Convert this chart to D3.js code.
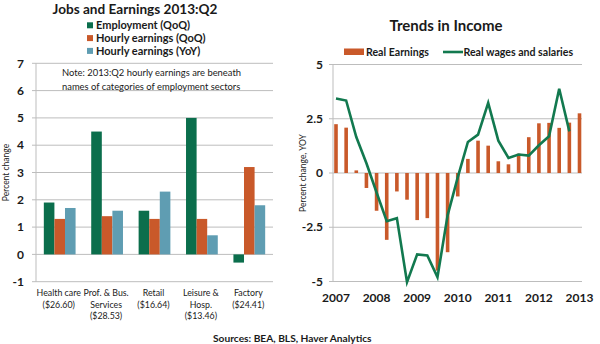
<!DOCTYPE html>
<html>
<head>
<meta charset="utf-8">
<script src="https://cdn.jsdelivr.net/npm/d3@7"></script>
<style>
  body { margin: 0; background: #fff; }
  svg { display: block; font-family: Lato, "Open Sans", sans-serif; }
</style>
</head>
<body>
<svg id="chart" width="600" height="344"></svg>
<script>
// left panel: jobs and hourly earnings by sector
const sectorLines = [
    ['Health care', '($26.60)'],
    ['Prof. & Bus.', 'Services', '($28.53)'],
    ['Retail', '($16.64)'],
    ['Leisure &', 'Hosp.', '($13.46)'],
    ['Factory', '($24.41)'],
];
const employment = [1.9, 4.5, 1.6, 5.0, -0.3];
const hourlyQoQ = [1.3, 1.4, 1.3, 1.3, 3.2];
const hourlyYoY = [1.7, 1.6, 2.3, 0.7, 1.8];
const leftTicks = [-1, 0, 1, 2, 3, 4, 5, 6, 7];

// right panel: income trends, quarterly
const quarters = [
    '2007Q1', '2007Q2', '2007Q3', '2007Q4',
    '2008Q1', '2008Q2', '2008Q3', '2008Q4',
    '2009Q1', '2009Q2', '2009Q3', '2009Q4',
    '2010Q1', '2010Q2', '2010Q3', '2010Q4',
    '2011Q1', '2011Q2', '2011Q3', '2011Q4',
    '2012Q1', '2012Q2', '2012Q3', '2012Q4',
    '2013Q1',
];
const realEarnings = [2.25, 2.09, 0.12, -0.69, -1.74, -3.08, -0.85, -1.23, -2.17, -2.08, -4.5, -3.65,
    -1.08, 0.65, 1.49, 1.26, 0.54, 0.40, 0.89, 1.65, 2.29, 2.31, 2.08, 2.32, 2.75];
const realWages = [3.43, 3.34, 1.66, 0.45, -0.9, -2.22, -2.08, -5.03, -3.75, -3.8, -4.8, -1.95,
    -0.2, 1.43, 1.77, 3.23, 1.49, 0.69, 0.85, 0.8, 1.28, 1.69, 3.88, 1.92];
const rightTicks = [-5, -2.5, 0, 2.5, 5];
const yearTicks = ['2007Q1', '2008Q1', '2009Q1', '2010Q1', '2011Q1', '2012Q1', '2013Q1'];

const green = '#0b6e4c';
const orange = '#c9592a';
const blue = '#5f9db2';
const lineGreen = '#12794f';
const gridColor = '#bdbdbd';
const textColor = '#1a1a1a';

const svg = d3.select('#chart');

// ---------- left panel ----------
const left = svg.append('g');
const x0 = d3.scaleBand()
    .domain(d3.range(sectorLines.length))
    .range([36, 273])
    .paddingInner(0.33)
    .paddingOuter(0.165);
const seriesKeys = ['emp', 'qoq', 'yoy'];
const x1 = d3.scaleBand().domain(seriesKeys).range([0, x0.bandwidth()]);
const yL = d3.scaleLinear().domain([-1, 7]).range([281.7, 63.3]);

left.append('g')
    .selectAll('line')
    .data(leftTicks)
    .join('line')
    .attr('x1', 32).attr('x2', 273)
    .attr('y1', d => yL(d)).attr('y2', d => yL(d))
    .attr('stroke', gridColor);

left.append('line')
    .attr('x1', 36).attr('x2', 36)
    .attr('y1', yL(7)).attr('y2', yL(-1))
    .attr('stroke', gridColor);

left.append('g')
    .selectAll('text')
    .data(leftTicks)
    .join('text')
    .attr('x', 24)
    .attr('y', d => yL(d))
    .attr('dy', '0.35em')
    .attr('text-anchor', 'end')
    .attr('font-size', 12)
    .attr('font-weight', 'bold')
    .attr('fill', textColor)
    .text(d => d);

left.append('text')
    .attr('transform', `translate(9,${yL(3)}) rotate(-90)`)
    .attr('text-anchor', 'middle')
    .attr('font-size', 8.5)
    .attr('fill', textColor)
    .text('Percent change');

const groups = sectorLines.map((_, i) => ({
    i,
    values: [
        {key: 'emp', v: employment[i], c: green},
        {key: 'qoq', v: hourlyQoQ[i], c: orange},
        {key: 'yoy', v: hourlyYoY[i], c: blue},
    ]
}));

left.append('g')
    .selectAll('g')
    .data(groups)
    .join('g')
    .attr('transform', d => `translate(${x0(d.i)},0)`)
    .selectAll('rect')
    .data(d => d.values)
    .join('rect')
    .attr('x', d => x1(d.key))
    .attr('width', x1.bandwidth())
    .attr('y', d => yL(Math.max(0, d.v)))
    .attr('height', d => Math.abs(yL(d.v) - yL(0)))
    .attr('fill', d => d.c);

left.append('g')
    .selectAll('text')
    .data(sectorLines.map((lines, i) => ({lines, i})))
    .join('text')
    .attr('text-anchor', 'middle')
    .attr('font-size', 8.8)
    .attr('fill', textColor)
    .selectAll('tspan')
    .data(d => d.lines.map((t, k) => ({t, k, i: d.i})))
    .join('tspan')
    .attr('x', d => x0(d.i) + x0.bandwidth() / 2 - 1)
    .attr('y', d => 296 + d.k * 11.6)
    .text(d => d.t);

left.append('text')
    .attr('x', 135)
    .attr('y', 14)
    .attr('text-anchor', 'middle')
    .attr('font-size', 13.6)
    .attr('font-weight', 'bold')
    .attr('fill', textColor)
    .text('Jobs and Earnings 2013:Q2');

const leftLegend = [
    {label: 'Employment (QoQ)', c: green},
    {label: 'Hourly earnings (QoQ)', c: orange},
    {label: 'Hourly earnings (YoY)', c: blue},
];
const lg = left.append('g')
    .selectAll('g')
    .data(leftLegend)
    .join('g')
    .attr('transform', (d, i) => `translate(87,${25.3 + i * 12.8})`);
lg.append('rect')
    .attr('x', 0).attr('y', -3)
    .attr('width', 6).attr('height', 6)
    .attr('fill', d => d.c);
lg.append('text')
    .attr('x', 9)
    .attr('dy', '0.35em')
    .attr('font-size', 11)
    .attr('font-weight', 'bold')
    .attr('fill', textColor)
    .text(d => d.label);

left.append('text')
    .attr('font-size', 9.4)
    .attr('fill', textColor)
    .selectAll('tspan')
    .data(['Note: 2013:Q2 hourly earnings are beneath', 'names of categories of employment sectors'])
    .join('tspan')
    .attr('x', 62)
    .attr('y', (d, i) => 76 + i * 13.5)
    .text(d => d);

// ---------- right panel ----------
const right = svg.append('g');
const xR = d3.scalePoint().domain(quarters).range([336, 579.5]);
const yR = d3.scaleLinear().domain([-5, 5]).range([281.5, 64.5]);

right.append('g')
    .selectAll('line')
    .data(rightTicks)
    .join('line')
    .attr('x1', 329).attr('x2', 582)
    .attr('y1', d => yR(d)).attr('y2', d => yR(d))
    .attr('stroke', gridColor);

right.append('line')
    .attr('x1', 333).attr('x2', 333)
    .attr('y1', yR(5)).attr('y2', yR(-5))
    .attr('stroke', gridColor);

right.append('g')
    .selectAll('text')
    .data(rightTicks)
    .join('text')
    .attr('x', 323)
    .attr('y', d => yR(d))
    .attr('dy', '0.35em')
    .attr('text-anchor', 'end')
    .attr('font-size', 12)
    .attr('font-weight', 'bold')
    .attr('fill', textColor)
    .text(d => d);

right.append('text')
    .attr('transform', `translate(306,${yR(0)}) rotate(-90)`)
    .attr('text-anchor', 'middle')
    .attr('font-size', 8.5)
    .attr('fill', textColor)
    .text('Percent change, YOY');

right.append('g')
    .selectAll('rect')
    .data(quarters.map((q, i) => ({q, v: realEarnings[i]})))
    .join('rect')
    .attr('x', d => xR(d.q) - 1.8)
    .attr('width', 3.6)
    .attr('y', d => yR(Math.max(0, d.v)))
    .attr('height', d => Math.abs(yR(d.v) - yR(0)))
    .attr('fill', orange);

const line = d3.line()
    .x(d => xR(d.q))
    .y(d => yR(d.v));

right.append('path')
    .datum(realWages.map((v, i) => ({q: quarters[i], v})))
    .attr('d', line)
    .attr('fill', 'none')
    .attr('stroke', lineGreen)
    .attr('stroke-width', 2.6)
    .attr('stroke-linejoin', 'miter');

right.append('g')
    .selectAll('text')
    .data(yearTicks)
    .join('text')
    .attr('x', d => xR(d))
    .attr('y', 298)
    .attr('dy', '0.35em')
    .attr('text-anchor', 'middle')
    .attr('font-size', 12)
    .attr('font-weight', 'bold')
    .attr('fill', textColor)
    .text(d => d.slice(0, 4));

right.append('text')
    .attr('x', 446)
    .attr('y', 31)
    .attr('text-anchor', 'middle')
    .attr('font-size', 15)
    .attr('font-weight', 'bold')
    .attr('fill', textColor)
    .text('Trends in Income');

right.append('rect')
    .attr('x', 344).attr('y', 48.5)
    .attr('width', 20).attr('height', 6.5)
    .attr('fill', orange);
right.append('text')
    .attr('x', 366).attr('y', 52)
    .attr('dy', '0.35em')
    .attr('font-size', 10.6)
    .attr('font-weight', 'bold')
    .attr('fill', textColor)
    .text('Real Earnings');
right.append('line')
    .attr('x1', 443).attr('x2', 463)
    .attr('y1', 52).attr('y2', 52)
    .attr('stroke', lineGreen)
    .attr('stroke-width', 2.6);
right.append('text')
    .attr('x', 463.5).attr('y', 52)
    .attr('dy', '0.35em')
    .attr('font-size', 10.6)
    .attr('font-weight', 'bold')
    .attr('fill', textColor)
    .text('Real wages and salaries');

svg.append('text')
    .attr('x', 213)
    .attr('y', 338)
    .attr('dy', '0.35em')
    .attr('font-size', 10.2)
    .attr('font-weight', 'bold')
    .attr('fill', textColor)
    .text('Sources: BEA, BLS, Haver Analytics');
</script>
</body>
</html>
